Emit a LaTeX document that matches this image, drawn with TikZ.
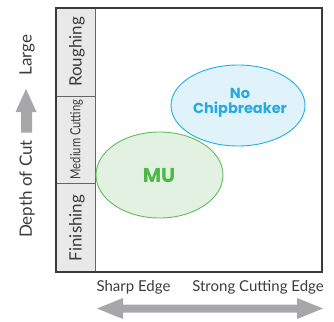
\documentclass[tikz,border=0pt]{standalone}
\usepackage{fontspec}
\setmainfont{Lato}
\newfontfamily\ellfont{Poppins}
\usetikzlibrary{shapes.geometric,arrows.meta}
\definecolor{boxline}{HTML}{3A3A3A}
\definecolor{colfill}{HTML}{E9E9E9}
\definecolor{arrgray}{HTML}{A7A7A9}
\definecolor{bluestroke}{HTML}{1EAEE8}
\definecolor{bluefill}{HTML}{E0F2FA}
\definecolor{bluetext}{HTML}{27AAE1}
\definecolor{greenstroke}{HTML}{5DBE52}
\definecolor{greenfill}{HTML}{E3F1E2}
\definecolor{greentext}{HTML}{4CB847}
\definecolor{txt}{HTML}{3C3C3C}
\tikzset{
  axislabel/.style={text=txt, font=\fontsize{17}{19}\selectfont, inner sep=0pt},
  rowlabel/.style={text=txt, font=\fontsize{17}{19}\selectfont, rotate=90, inner sep=0pt},
}
\begin{document}
\begin{tikzpicture}[x=1pt,y=-1pt]
\useasboundingbox (0,0) rectangle (334,321);
% label column
\fill[colfill] (56,8) rectangle (95,272);
\draw[gray!80!black, line width=0.6pt] (95,8) -- (95,272);
\draw[gray!80!black, line width=0.6pt] (56,96) -- (95,96);
\draw[gray!80!black, line width=0.6pt] (56,183) -- (95,183);
\node[rowlabel] (rough) at (77,52) {Roughing};
\node[rowlabel, font=\fontsize{14}{16}\selectfont] (med) at (76.5,139.5) {\scalebox{0.8}[1]{Medium Cutting}};
\node[rowlabel] (fin) at (77,228) {Finishing};
% ellipses
\node[ellipse, draw=bluestroke, fill=bluefill, line width=0.9pt, minimum width=134pt, minimum height=81pt, inner sep=0pt] (nochip) at (238,105.5) {};
\node[text=bluetext, font=\ellfont\fontsize{14.5}{15}\selectfont\bfseries, align=center] (nctext) at (240,102.5) {No\\Chipbreaker};
\node[ellipse, draw=greenstroke, fill=greenfill, line width=0.9pt, minimum width=127pt, minimum height=86pt, inner sep=0pt] (mu) at (159.5,175) {};
\node[text=greentext, font=\ellfont\fontsize{20}{22}\selectfont\bfseries] (mutext) at (159,176) {MU};
% outer box
\draw[boxline, line width=1.6pt] (56,8) rectangle (322,272);
% left axis
\node[axislabel, rotate=90] (large) at (27,55) {Large};
\node[axislabel, rotate=90] (depth) at (27,189) {Depth of Cut};
\fill[arrgray] (26,89) -- (36.5,112) -- (32,112) -- (32,132.5) -- (21,132.5) -- (21,112) -- (15.5,112) -- cycle;
% bottom axis
\node[axislabel, font=\fontsize{15}{17}\selectfont] (sharp) at (133.5,287) {Sharp Edge};
\node[axislabel, font=\fontsize{15}{17}\selectfont] (strong) at (258,287) {Strong Cutting Edge};
\fill[arrgray] (97,308.5) -- (123,298) -- (123,304.5) -- (297,304.5) -- (297,298) -- (323,308.5) -- (297,319) -- (297,312.5) -- (123,312.5) -- (123,319) -- cycle;
\end{tikzpicture}
\end{document}
